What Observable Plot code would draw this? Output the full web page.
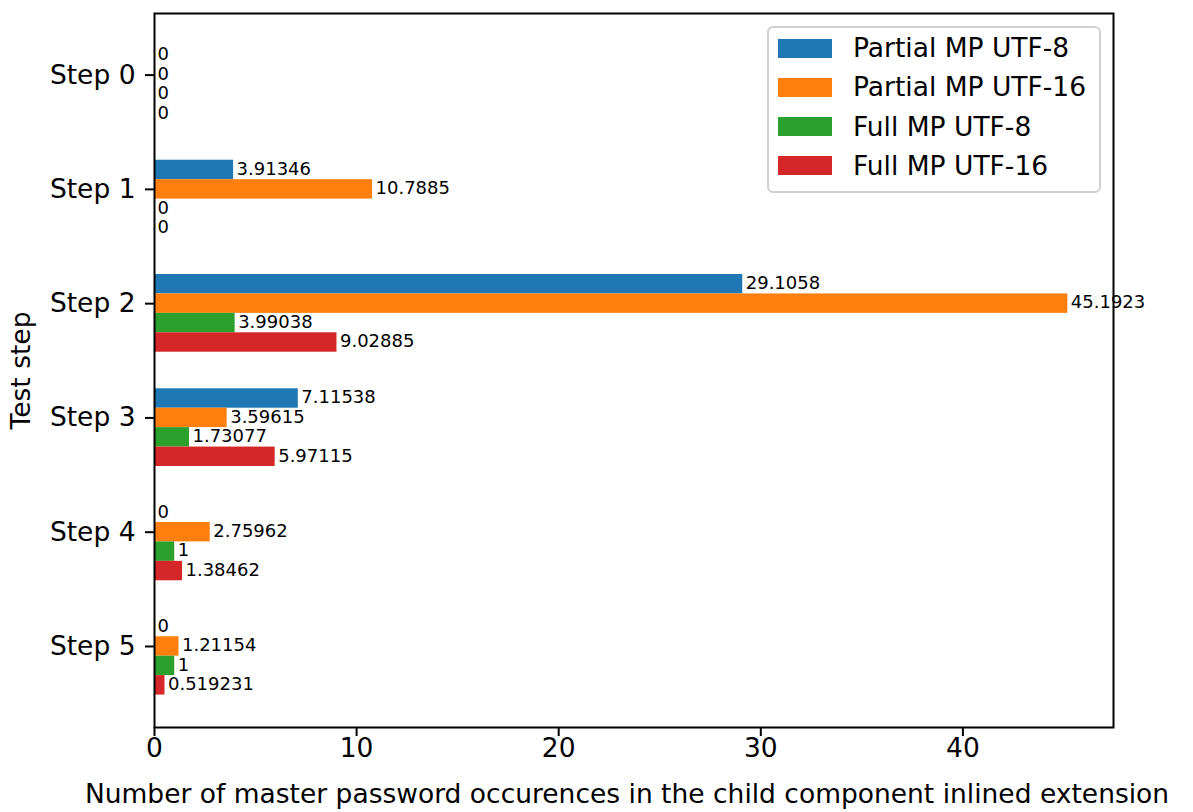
<!DOCTYPE html>
<html>
<head>
<meta charset="utf-8">
<script src="https://cdn.jsdelivr.net/npm/d3@7"></script>
<script src="https://cdn.jsdelivr.net/npm/@observablehq/plot@0.6"></script>
<style>
  html, body { margin: 0; padding: 0; background: #fff; }
  #wrap { position: relative; width: 1193px; height: 812px; font-family: "DejaVu Sans", sans-serif; }
  #legend { position: absolute; box-sizing: border-box; border: 2px solid #d0d0d0; border-radius: 6px; background: rgba(255,255,255,0.8); }
  .sw { position: absolute; width: 54px; height: 19px; }
  .lb { position: absolute; font-size: 26.5px; line-height: 28px; white-space: nowrap; color: #000; }
</style>
</head>
<body>
<div id="wrap"></div>
<script>
const steps = ["Step 0", "Step 1", "Step 2", "Step 3", "Step 4", "Step 5"];
const seriesNames = ["Partial MP UTF-8", "Partial MP UTF-16", "Full MP UTF-8", "Full MP UTF-16"];
const seriesColors = ["#1f77b4", "#ff7f0e", "#2ca02c", "#d62728"];
const partialUtf8 = [0, 3.91346, 29.1058, 7.11538, 0, 0];
const partialUtf16 = [0, 10.7885, 45.1923, 3.59615, 2.75962, 1.21154];
const fullUtf8 = [0, 0, 3.99038, 1.73077, 1, 1];
const fullUtf16 = [0, 0, 9.02885, 5.97115, 1.38462, 0.519231];
const xTicks = [0, 10, 20, 30, 40];
const xLabel = "Number of master password occurences in the child component inlined extension";
const yLabel = "Test step";

const seriesValues = [partialUtf8, partialUtf16, fullUtf8, fullUtf16];
const w = 0.17;
const rows = [];
seriesValues.forEach((vals, i) => {
  vals.forEach((v, j) => {
    const c = j + (i - 1) * w;
    rows.push({series: seriesNames[i], value: v, yc: c, y1: c - w / 2, y2: c + w / 2, label: String(v)});
  });
});
const lo = -1.5 * w, hi = steps.length - 1 + 2.5 * w;
const m = 0.05 * (hi - lo);
const xMax = d3.max(rows, d => d.value) * 1.05;

const W = 1193, H = 812;
const mL = 154, mR = 80, mT = 13, mB = 85;
const FS = 26.5;

const chart = Plot.plot({
  width: W, height: H,
  marginLeft: mL, marginRight: mR, marginTop: mT, marginBottom: mB,
  style: {fontFamily: "DejaVu Sans, sans-serif", color: "#000", background: "#fff"},
  x: {domain: [0, xMax]},
  y: {domain: [lo - m, hi + m], reverse: true},
  color: {domain: seriesNames, range: seriesColors},
  marks: [
    Plot.rectX(rows, {x1: 0, x2: "value", y1: "y1", y2: "y2", fill: "series"}),
    Plot.text(rows, {x: "value", y: "yc", text: "label", textAnchor: "start", dx: 3, dy: -1, fontSize: 18, fill: "#000"}),
    Plot.frame({stroke: "#000", strokeWidth: 2}),
    Plot.axisX({ticks: xTicks, tickFormat: d => String(d), tickSize: 9, tickPadding: 2, strokeWidth: 2, fontSize: FS, label: null}),
    Plot.text([xLabel], {frameAnchor: "bottom", lineAnchor: "bottom", dy: 75, dx: -7, fontSize: FS, fill: "#000"}),
    Plot.axisY({ticks: d3.range(steps.length), tickFormat: i => steps[i], tickSize: 9, tickPadding: 10, strokeWidth: 2, fontSize: FS,
      label: yLabel, labelAnchor: "center", labelArrow: "none", labelOffset: 143})
  ]
});

const wrap = document.getElementById("wrap");
wrap.appendChild(chart);

// legend
const lg = document.createElement("div");
lg.id = "legend";
Object.assign(lg.style, {left: "767px", top: "26px", width: "334px", height: "167px"});
seriesNames.forEach((name, i) => {
  const cy = 20 + i * 39.3;
  const sw = document.createElement("div");
  sw.className = "sw";
  Object.assign(sw.style, {left: "9px", top: (cy - 9.5) + "px", background: seriesColors[i]});
  const lb = document.createElement("div");
  lb.className = "lb";
  Object.assign(lb.style, {left: "84px", top: (cy - 14) + "px"});
  lb.textContent = name;
  lg.appendChild(sw);
  lg.appendChild(lb);
});
wrap.appendChild(lg);
</script>
</body>
</html>
